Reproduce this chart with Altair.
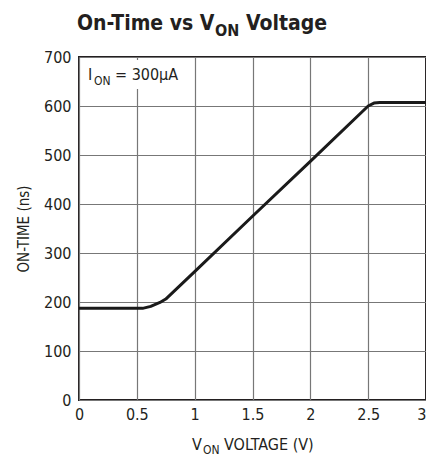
import altair as alt
import pandas as pd

voltage = [0.0, 0.55, 0.62, 0.70, 0.75, 1.0, 1.5, 2.0, 2.5, 2.55, 2.6, 3.0]
on_time = [187, 187, 191, 199, 206, 262, 375, 487, 600, 606, 607, 607]

x_ticks = [0, 0.5, 1, 1.5, 2, 2.5, 3]
y_ticks = [0, 100, 200, 300, 400, 500, 600, 700]

FONT = "DejaVu Sans Condensed"
W, H = 347, 343

df = pd.DataFrame({"v": voltage, "t": on_time})

xs = alt.Scale(domain=[0, 3], nice=False)
ys = alt.Scale(domain=[0, 700], nice=False)

line = alt.Chart(df).mark_line(color="#1a1a1a", strokeWidth=3, strokeJoin="round").encode(
    x=alt.X("v:Q", scale=xs, axis=alt.Axis(values=x_ticks, title=None, grid=True,
            labelFontSize=16, labelPadding=6, ticks=False, domain=False,
            labelAlign=alt.expr("datum.value == 3 ? 'right' : 'center'"),
            labelExpr="datum.value")),
    y=alt.Y("t:Q", scale=ys, axis=alt.Axis(values=y_ticks, title="ON-TIME (ns)", grid=True,
            labelFontSize=16, labelPadding=8, ticks=False, domain=False,
            titleFontSize=15, titleFontWeight="normal", titlePadding=12)),
)

def txt(s, x, y, size, weight="normal", align="left", baseline="alphabetic"):
    return alt.Chart(pd.DataFrame({"s": [s]})).mark_text(
        font=FONT, fontSize=size, fontWeight=weight, align=align, baseline=baseline,
        color="#231f20").encode(text="s:N", x=alt.value(x), y=alt.value(y))

# white box behind annotation
box = alt.Chart(pd.DataFrame({"a": [0]})).mark_rect(color="white").encode(
    x=alt.value(4), x2=alt.value(112), y=alt.value(3), y2=alt.value(32))

layers = [
    box, line,
    # annotation
    txt("I", 9, 23, 16), txt("ON", 15, 28, 12), txt("= 300µA", 36, 23, 16),
    # title
    txt("On-Time vs V", -2, -27, 21, "bold"), txt("ON", 136, -21, 16, "bold"),
    txt("Voltage", 167, -27, 21, "bold"),
    # x axis title
    txt("V", 113, 50 + H, 16), txt("ON", 124, 54 + H, 12), txt("VOLTAGE (V)", 145, 50 + H, 16),
]

chart = alt.layer(*layers).properties(
    width=W, height=H,
    autosize=alt.AutoSizeParams(type="none"),
    padding={"left": 71, "top": 49, "right": 0, "bottom": 58},
).configure_view(stroke="#231f20", strokeWidth=2).configure_axis(
    labelFont=FONT, titleFont=FONT, labelColor="#231f20", titleColor="#231f20",
    gridColor="#777777", gridWidth=1.2, gridOpacity=1,
)

chart.save("out.html", embed_options={"renderer": "svg", "actions": False})
